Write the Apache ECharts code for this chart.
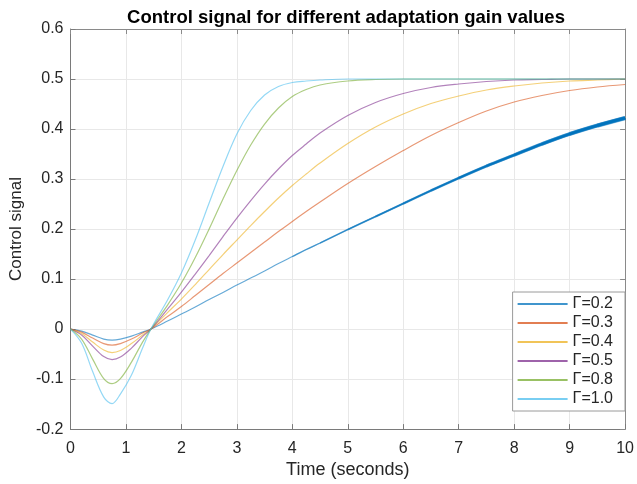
<!DOCTYPE html>
<html lang="en">
<head>
  <meta charset="UTF-8">
  <title>Control signal</title>
  <script src="https://cdn.jsdelivr.net/npm/echarts@6/dist/echarts.min.js"></script>
  <style>
    html, body { margin: 0; padding: 0; background: #fff; }
  </style>
</head>
<body>
  <div id="chart" style="width: 637px; height: 484px;"></div>
</body>
<script>
  // time samples (seconds)
  let time = [0, 0.2, 0.4, 0.6, 0.75, 0.9, 1.1, 1.3, 1.45, 1.75, 2, 2.25, 2.5, 2.75, 3, 3.25, 3.5, 3.75, 4, 4.25, 4.5, 5, 5.5, 6, 6.5, 7, 7.5, 8, 8.5, 9, 9.5, 10]

  // control signal for each adaptation gain
  let g02 = [0, -0.004, -0.012, -0.02, -0.022, -0.02, -0.014, -0.006, 0, 0.016, 0.03, 0.044, 0.059, 0.073, 0.088, 0.102, 0.116, 0.131, 0.145, 0.159, 0.172, 0.199, 0.225, 0.251, 0.277, 0.302, 0.326, 0.348, 0.37, 0.39, 0.407, 0.422]
  let g03 = [0, -0.006, -0.018, -0.029, -0.032, -0.029, -0.02, -0.008, 0, 0.025, 0.045, 0.067, 0.089, 0.111, 0.132, 0.153, 0.174, 0.195, 0.215, 0.235, 0.254, 0.291, 0.325, 0.357, 0.387, 0.413, 0.436, 0.454, 0.467, 0.477, 0.484, 0.489]
  let g04 = [0, -0.009, -0.026, -0.042, -0.047, -0.043, -0.029, -0.012, 0, 0.033, 0.06, 0.089, 0.119, 0.149, 0.178, 0.207, 0.235, 0.262, 0.287, 0.31, 0.332, 0.371, 0.404, 0.43, 0.451, 0.466, 0.478, 0.486, 0.492, 0.496, 0.498, 0.5]
  let g05 = [0, -0.012, -0.034, -0.055, -0.061, -0.056, -0.038, -0.015, 0, 0.04, 0.074, 0.11, 0.147, 0.185, 0.222, 0.257, 0.29, 0.32, 0.347, 0.37, 0.392, 0.427, 0.453, 0.471, 0.483, 0.49, 0.495, 0.498, 0.499, 0.5, 0.5, 0.5]
  let g08 = [0, -0.02, -0.06, -0.099, -0.109, -0.099, -0.066, -0.026, 0, 0.048, 0.092, 0.143, 0.2, 0.26, 0.317, 0.368, 0.41, 0.442, 0.465, 0.479, 0.488, 0.496, 0.499, 0.5, 0.5, 0.5, 0.5, 0.5, 0.5, 0.5, 0.5, 0.5]
  let g10 = [0, -0.028, -0.085, -0.136, -0.149, -0.13, -0.092, -0.038, 0, 0.058, 0.112, 0.178, 0.252, 0.325, 0.39, 0.437, 0.468, 0.485, 0.493, 0.496, 0.498, 0.5, 0.5, 0.5, 0.5, 0.5, 0.5, 0.5, 0.5, 0.5, 0.5, 0.5]

  let names = ['Γ=0.2', 'Γ=0.3', 'Γ=0.4', 'Γ=0.5', 'Γ=0.8', 'Γ=1.0']
  let colors = ['#0072BD', '#D95319', '#EDB120', '#7E2F8E', '#77AC30', '#4DBEEE']
  let values = [g02, g03, g04, g05, g08, g10]

  let font = 'Liberation Sans, Arial, sans-serif'
  let pair = arr => time.map((t, i) => [t, arr[i]])

  let series = values.map((v, k) => ({
    name: names[k],
    type: 'line',
    data: pair(v),
    symbol: 'none',
    smooth: 0.35,
    lineStyle: { color: colors[k], width: 1.2, opacity: 0.6 },
    itemStyle: { color: colors[k] },
    z: 3
  }))

  // the first curve gets thicker and darker towards the end
  let starts = [4, 4.5, 5, 5.5, 6, 6.5, 7, 7.5, 8, 8.5, 9, 9.5]
  starts.forEach((from, j) => {
    series.push({
      name: 'thick' + j,
      type: 'line',
      data: pair(g02).filter(p => p[0] >= from),
      symbol: 'none',
      smooth: 0.35,
      lineStyle: { color: colors[0], width: 1.3 + j * 0.28, opacity: 0.35 },
      z: 4
    })
  })

  let tickFmt = v => String(+v.toFixed(1))

  let myCharts = echarts.init(document.getElementById('chart'))
  let option = {
    animation: false,
    backgroundColor: '#fff',
    title: {
      text: 'Control signal for different adaptation gain values',
      left: 341,
      textAlign: 'center',
      top: 3,
      textStyle: { fontFamily: font, fontSize: 18.5, fontWeight: 'bold', color: '#000' }
    },
    grid: { left: 69, right: 10, top: 29, bottom: 54 },
    legend: {
      data: names,
      orient: 'vertical',
      right: 12,
      top: 292,
      icon: 'rect',
      itemWidth: 50,
      itemHeight: 1.5,
      itemGap: 3,
      padding: [4, 12, 4, 5],
      backgroundColor: '#fff',
      borderColor: '#9a9a9a',
      borderWidth: 1,
      textStyle: { fontFamily: font, fontSize: 16, color: '#262626', lineHeight: 15 }
    },
    xAxis: [{
      type: 'value',
      min: 0, max: 10, interval: 1,
      name: 'Time (seconds)',
      nameLocation: 'middle',
      nameGap: 27,
      nameTextStyle: { fontFamily: font, fontSize: 18, color: '#262626' },
      axisLine: { show: true, onZero: false, lineStyle: { color: '#7a7a7a' } },
      axisTick: { show: true, inside: true, length: 5, lineStyle: { color: '#7a7a7a' } },
      axisLabel: { fontFamily: font, fontSize: 16, color: '#262626', margin: 11 },
      splitLine: { show: true, lineStyle: { color: '#e8e8e8' } }
    }, {
      type: 'value', position: 'top',
      min: 0, max: 10, interval: 1,
      axisLine: { show: true, onZero: false, lineStyle: { color: '#8a8a8a' } },
      axisTick: { show: true, inside: true, length: 5, lineStyle: { color: '#8a8a8a' } },
      axisLabel: { show: false },
      splitLine: { show: false }
    }],
    yAxis: [{
      type: 'value',
      min: -0.2, max: 0.6, interval: 0.1,
      name: 'Control signal',
      nameLocation: 'middle',
      nameGap: 35,
      nameTextStyle: { fontFamily: font, fontSize: 17, color: '#262626' },
      axisLine: { show: true, onZero: false, lineStyle: { color: '#7a7a7a' } },
      axisTick: { show: true, inside: true, length: 5, lineStyle: { color: '#7a7a7a' } },
      axisLabel: { fontFamily: font, fontSize: 16, color: '#262626', margin: 7, formatter: tickFmt },
      splitLine: { show: true, lineStyle: { color: '#e8e8e8' } }
    }, {
      type: 'value', position: 'right',
      min: -0.2, max: 0.6, interval: 0.1,
      axisLine: { show: true, onZero: false, lineStyle: { color: '#8a8a8a' } },
      axisTick: { show: true, inside: true, length: 5, lineStyle: { color: '#8a8a8a' } },
      axisLabel: { show: false },
      splitLine: { show: false }
    }],
    series: series
  }
  myCharts.setOption(option)
</script>
</html>
